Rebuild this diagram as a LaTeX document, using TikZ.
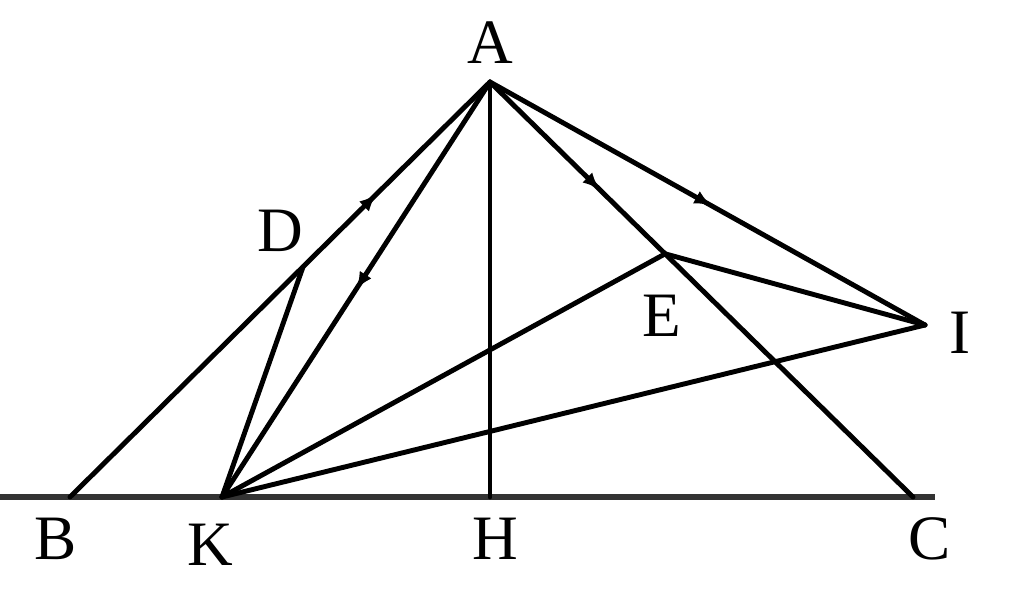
\documentclass[tikz,border=0pt]{standalone}
\usepackage{fontspec}
\setmainfont{Liberation Serif}
\usetikzlibrary{calc,decorations.markings,arrows.meta}

\tikzset{
    seg/.style={line width=1.4pt, line cap=round},
    lbl/.style={font=\fontsize{18}{20}\selectfont, inner sep=0pt},
    tickmark/.style={postaction={decorate, decoration={markings,
        mark=at position #1 with {\arrow{Latex[length=5pt,width=4pt]}}}}}
}

\begin{document}
\begin{tikzpicture}

    \useasboundingbox (0,0) rectangle (10.24,6.11);

    \coordinate (A) at (4.90,5.29);
    \coordinate (B) at (0.70,1.14);
    \coordinate (K) at (2.22,1.14);
    \coordinate (H) at (4.90,1.14);
    \coordinate (C) at (9.13,1.14);
    \coordinate (D) at ($(A)!0.445!(B)$);
    \coordinate (E) at ($(A)!0.414!(C)$);
    \coordinate (I) at (9.25,2.86);
    \coordinate (Lft) at (0,1.14);
    \coordinate (Rgt) at (9.35,1.14);

    \node[lbl] (LA) at (4.90,5.68) {A};
    \node[lbl] (LD) at (2.80,3.80) {D};
    \node[lbl] (LE) at (6.62,2.95) {E};
    \node[lbl] (LI) at (9.60,2.78) {I};
    \node[lbl] (LB) at (0.56,0.72) {B};
    \node[lbl] (LK) at (2.10,0.66) {K};
    \node[lbl] (LH) at (4.95,0.72) {H};
    \node[lbl] (LC) at (9.30,0.72) {C};

    % base line
    \draw[line width=1.9pt, black!80] (Lft) -- (Rgt);

    % sides from A
    \draw[seg, tickmark=0.73] (B) -- (A);
    \draw[seg, tickmark=0.5] (A) -- (K);
    \draw[seg] (A) -- (H);
    \draw[seg, tickmark=0.26] (A) -- (C);
    \draw[seg, tickmark=0.51] (A) -- (I);

    % lines from K
    \draw[seg] (K) -- (D);
    \draw[seg] (K) -- (E);
    \draw[seg] (K) -- (I);
    \draw[seg] (E) -- (I);

\end{tikzpicture}
\end{document}
